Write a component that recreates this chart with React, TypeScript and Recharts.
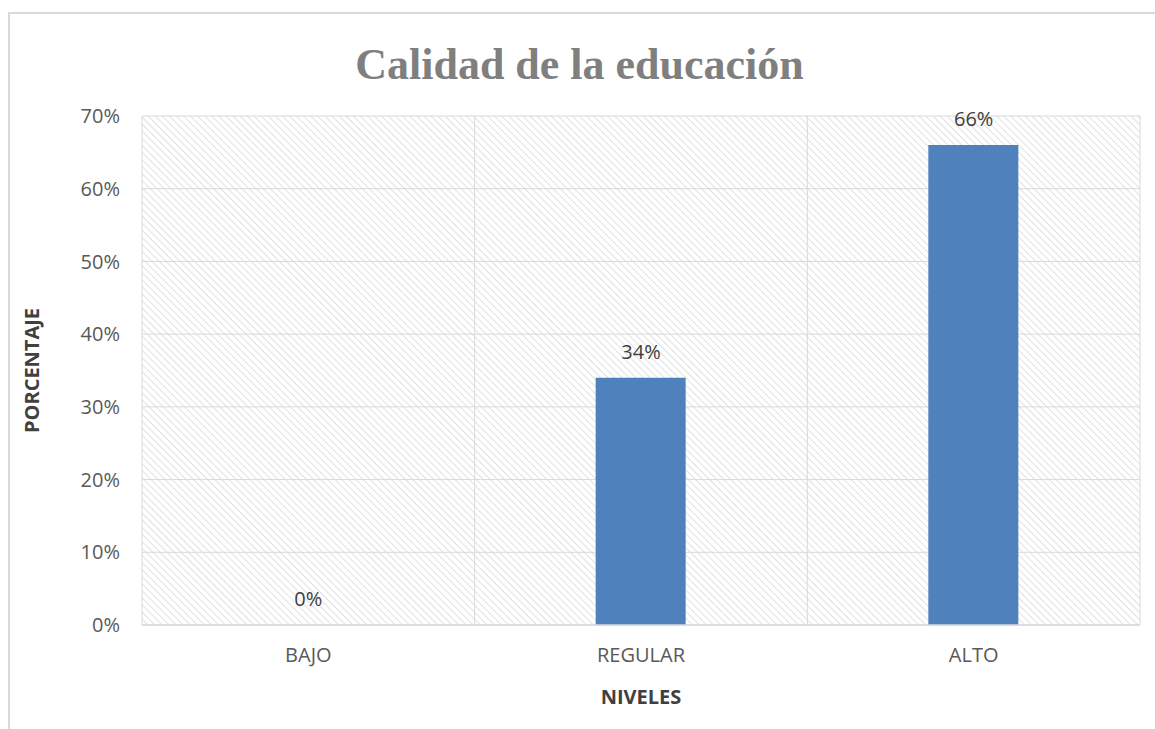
import React from 'react';
import { ComposedChart, Bar, Line, XAxis, YAxis, CartesianGrid, LabelList } from 'recharts';

const niveles = ['BAJO', 'REGULAR', 'ALTO'];
const porcentajes = [0, 34, 66];
const yTicks = [0, 10, 20, 30, 40, 50, 60, 70];

const data = niveles.map((nivel, i) => ({ nivel, valor: porcentajes[i] }));

const FONT = '"Open Sans", "Liberation Sans", sans-serif';

const App: React.FC = () => {
  return (
    <div
      style={{
        position: 'fixed',
        left: 8,
        top: 12,
        width: 1147,
        height: 717,
        borderLeft: '2px solid #d9d9d9',
        borderTop: '2px solid #d9d9d9',
        background: '#fff',
        boxSizing: 'border-box',
      }}
    >
      {/* Title */}
      <div
        style={{
          position: 'absolute',
          left: 0,
          top: 27,
          width: 1139,
          textAlign: 'center',
          fontFamily: '"Liberation Serif", "DejaVu Serif", serif',
          fontWeight: 'bold',
          fontSize: 44,
          color: '#7f7f7f',
          lineHeight: '48px',
        }}
      >
        Calidad de la educación
      </div>
      <div style={{ position: 'absolute', left: -2, top: -2 }}>
        <ComposedChart
          width={1147}
          height={717}
          data={data}
          margin={{ top: 104, right: 15, left: 0, bottom: 0 }}
          barSize={90}
        >
          <defs>
            <pattern
              id="hatch"
              width="5"
              height="5"
              patternUnits="userSpaceOnUse"
              patternTransform="rotate(-45)"
            >
              <line x1="0" y1="0" x2="0" y2="5" stroke="#d9d9d9" strokeWidth={1.6} />
            </pattern>
          </defs>
          <CartesianGrid
            stroke="#d9d9d9"
            fill="url(#hatch)"
            fillOpacity={1}
            verticalCoordinatesGenerator={({ offset }: any) => [
              offset.left,
              offset.left + offset.width / 3,
              offset.left + (offset.width * 2) / 3,
              offset.left + offset.width,
            ]}
          />
          <XAxis
            dataKey="nivel"
            height={104}
            tickLine={false}
            tickSize={0}
            axisLine={{ stroke: '#d9d9d9', strokeWidth: 1.5 }}
            tick={{ fill: '#595959', fontSize: 20, fontFamily: FONT }}
            tickMargin={23}
            label={{
              value: 'NIVELES',
              position: 'insideBottom',
              offset: 25,
              style: { fill: '#404040', fontSize: 20, fontWeight: 'bold', fontFamily: FONT },
            }}
          />
          <YAxis
            width={134}
            domain={[0, 70]}
            ticks={yTicks}
            interval={0}
            tickFormatter={(v) => `${v}%`}
            tickLine={false}
            axisLine={false}
            tickSize={0}
            tickMargin={22}
            tick={{ fill: '#595959', fontSize: 20, fontFamily: FONT }}
            label={{
              value: 'PORCENTAJE',
              angle: -90,
              position: 'insideLeft',
              offset: 24,
              style: {
                textAnchor: 'middle',
                fill: '#404040',
                fontSize: 20,
                fontWeight: 'bold',
                fontFamily: FONT,
              },
            }}
          />
          <Bar dataKey="valor" fill="#4f81bd" isAnimationActive={false} />
          {/* invisible series carrying the value labels, so the 0% label is drawn too */}
          <Line
            dataKey="valor"
            stroke="none"
            strokeOpacity={0}
            dot={false}
            activeDot={false}
            isAnimationActive={false}
          >
            <LabelList
              dataKey="valor"
              position="top"
              offset={19}
              formatter={(v: any) => `${v}%`}
              style={{ fill: '#404040', fontSize: 20, fontFamily: FONT }}
            />
          </Line>
        </ComposedChart>
      </div>
    </div>
  );
};

export default App;
